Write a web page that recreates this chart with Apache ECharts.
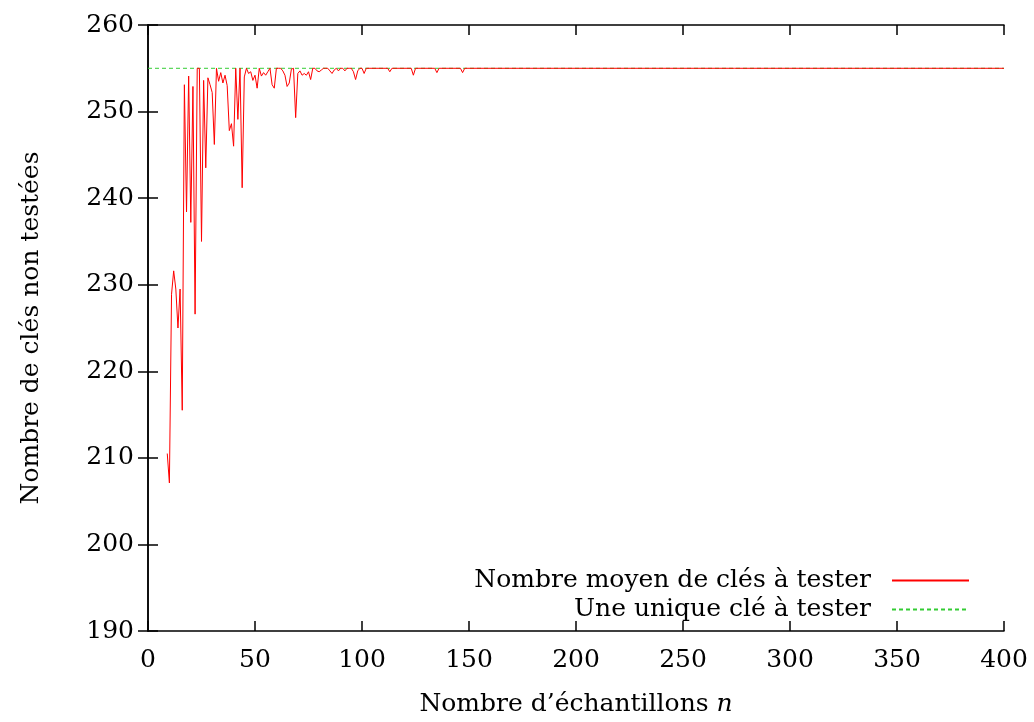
<!DOCTYPE html>
<html>
<head>
<meta charset="utf-8">
<script src="https://cdn.jsdelivr.net/npm/echarts@6/dist/echarts.min.js"></script>
<style>
html,body{margin:0;padding:0;background:#fff;}
#chart{width:1034px;height:722px;}
</style>
</head>
<body>
<div id="chart"></div>
<script>
// Sample counts n (x) and mean number of untested keys (y)
const sampleN = [9,10,11,12,13,14,15,16,17,18,19,20,21,22,23,24,25,26,27,28,29,30,
  31,32,33,34,35,36,37,38,39,40,41,42,43,44,45,46,47,48,49,50,51,52,53,54,55,56,57,58,59,60,
  61,62,63,64,65,66,67,68,69,70,71,72,73,74,75,76,77,78,79,80,81,82,83,84,85,86,87,88,89,90,
  91,92,93,94,95,96,97,98,99,100,101,102,112,113,114,123,124,125,134,135,136,146,147,148,400];
const meanKeys = [210.5,207.1,228.9,231.6,229.5,225.0,229.5,215.5,253.1,238.4,254.1,237.2,252.9,226.6,255,255,235.0,253.6,243.5,253.9,253.1,252.2,
  246.2,255,253.5,254.5,253.3,254.2,253.0,247.8,248.6,246.0,255,249.1,255,241.2,254.0,255,254.4,254.6,253.6,254.2,252.7,255,254.1,254.5,254.2,254.6,255,253.1,252.7,255,
  255,255,254.7,254.2,252.9,253.3,254.9,255,249.3,254.4,254.7,254.2,254.4,254.2,254.6,253.7,255,255,254.7,254.6,254.8,255,255,255,254.7,254.4,254.8,255,254.7,255,
  255,254.7,255,255,255,254.6,253.7,254.7,255,255,254.4,255,255,254.6,255,255,254.2,255,255,254.5,255,255,254.5,255,255];
// Reference: a single key to test
const singleN = [0, 400];
const singleKey = [255, 255];

const xTicks = {min: 0, max: 400, interval: 50};
const yTicks = {min: 190, max: 260, interval: 10};

const FONT = 'DejaVu Serif';
const FS = 25;

const chart = echarts.init(document.getElementById('chart'), null, {renderer: 'canvas'});
const axisLine = {show: true, lineStyle: {color: '#000', width: 1.5}};
const tick = {show: true, inside: true, length: 10, lineStyle: {color: '#000', width: 1.5}};
const legendCommon = {
  right: 64, align: 'right', orient: 'vertical', itemWidth: 77, itemHeight: 14, padding: 0,
  itemStyle: {opacity: 0, borderWidth: 0},
  textStyle: {color: '#000', fontFamily: FONT, fontSize: FS, padding: [0, 16, 0, 0]}
};

chart.setOption({
  animation: false,
  backgroundColor: '#fff',
  grid: {left: 148, right: 30, top: 25, bottom: 89, containLabel: false},
  xAxis: [
    {type: 'value', position: 'bottom', min: xTicks.min, max: xTicks.max, interval: xTicks.interval,
     axisLine: axisLine, axisTick: tick, splitLine: {show: false},
     axisLabel: {margin: 17, color: '#000', fontFamily: FONT, fontSize: FS},
     name: 'Nombre d’échantillons {i|n}', nameLocation: 'middle', nameGap: 61,
     nameTextStyle: {color: '#000', fontFamily: FONT, fontSize: FS,
       rich: {i: {fontStyle: 'italic', fontFamily: FONT, fontSize: FS, color: '#000'}}}},
    {type: 'value', position: 'top', min: xTicks.min, max: xTicks.max, interval: xTicks.interval,
     axisLine: axisLine, axisTick: tick, splitLine: {show: false}, axisLabel: {show: false}}
  ],
  yAxis: [
    {type: 'value', position: 'left', min: yTicks.min, max: yTicks.max, interval: yTicks.interval,
     axisLine: axisLine, axisTick: tick, splitLine: {show: false},
     axisLabel: {margin: 14, color: '#000', fontFamily: FONT, fontSize: FS},
     name: 'Nombre de clés non testées', nameLocation: 'middle', nameGap: 104, nameRotate: 90,
     nameTextStyle: {color: '#000', fontFamily: FONT, fontSize: FS}},
    {type: 'value', position: 'right', min: yTicks.min, max: yTicks.max, interval: yTicks.interval,
     axisLine: axisLine, axisTick: tick, splitLine: {show: false}, axisLabel: {show: false}}
  ],
  legend: [
    Object.assign({data: ['Nombre moyen de clés à tester'], top: 568}, legendCommon),
    Object.assign({data: ['Une unique clé à tester'], top: 597}, legendCommon)
  ],
  series: [
    {name: 'Une unique clé à tester', type: 'line', showSymbol: false, symbol: 'none',
     data: singleN.map((n, i) => [n, singleKey[i]]),
     lineStyle: {color: '#33cc33', width: 1, type: [4, 3]}, itemStyle: {color: '#33cc33'}, z: 1},
    {name: 'Nombre moyen de clés à tester', type: 'line', showSymbol: false, symbol: 'none',
     data: sampleN.map((n, i) => [n, meanKeys[i]]),
     lineStyle: {color: '#ff0000', width: 1}, itemStyle: {color: '#ff0000'}, z: 2}
  ]
});
</script>
</body>
</html>
